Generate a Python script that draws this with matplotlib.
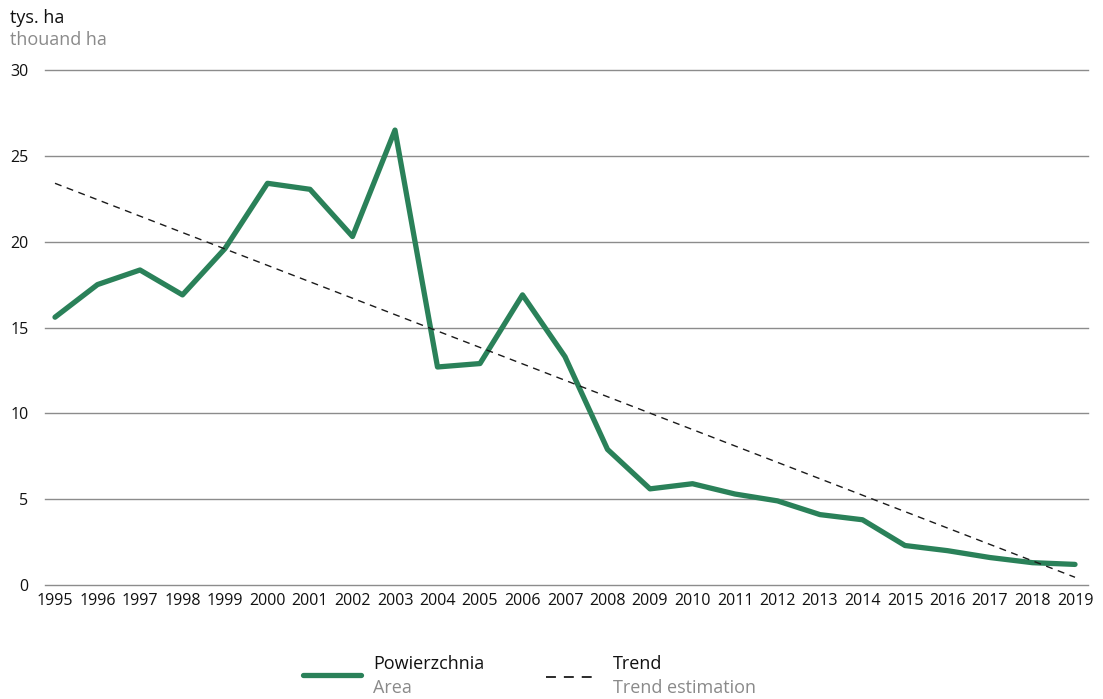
import matplotlib
matplotlib.use("Agg")
import matplotlib.pyplot as plt
from matplotlib.lines import Line2D

plt.rcParams['font.family'] = ['Open Sans', 'DejaVu Sans']

years = list(range(1995, 2020))
area = [15.6, 17.5, 18.35, 16.9, 19.6, 23.4, 23.05, 20.3, 26.5, 12.7,
        12.9, 16.9, 13.3, 7.9, 5.6, 5.9, 5.3, 4.9, 4.1, 3.8,
        2.3, 2.0, 1.6, 1.3, 1.2]
trend_years = [1995, 2019]
trend_vals = [23.4, 0.45]
yticks = [0, 5, 10, 15, 20, 25, 30]

green = '#2a8159'

fig = plt.figure(figsize=(11.03, 6.99), dpi=100)
ax = fig.add_axes([45 / 1103, 1 - 585 / 699, (1088 - 45) / 1103, (585 - 70) / 699])

ax.plot(years, area, color=green, lw=3.8, solid_capstyle='round', solid_joinstyle='round', zorder=3)
ax.plot(trend_years, trend_vals, color='#1a1a1a', lw=1.0, ls=(0, (5, 4)), zorder=4)

ax.set_xlim(1995 - 10 / 42.5, 2019 + 13 / 42.5)
ax.set_ylim(0, 30)
ax.set_yticks(yticks)
ax.set_xticks(years)
ax.set_xticklabels([str(y) for y in years])
ax.grid(axis='y', color='#8c8c8c', lw=1.0)
for gl in ax.get_ygridlines():
    gl.set_clip_on(False)
ax.set_axisbelow(True)
for s in ax.spines.values():
    s.set_visible(False)
ax.tick_params(axis='both', length=0, labelsize=11.5, colors='#111111')
ax.tick_params(axis='x', pad=6)
ax.tick_params(axis='y', pad=12)

fig.text(10 / 1103, 1 - 18 / 699, 'tys. ha', fontsize=13, color='#111111', va='center', ha='left')
fig.text(10 / 1103, 1 - 40 / 699, 'thouand ha', fontsize=13, color='#8a8a8a', va='center', ha='left')

# legend
fig.add_artist(Line2D([303 / 1103, 361 / 1103], [1 - 675 / 699] * 2, color=green, lw=3.8,
                      solid_capstyle='round'))
fig.text(373 / 1103, 1 - 664 / 699, 'Powierzchnia', fontsize=13, color='#111111', va='center')
fig.text(373 / 1103, 1 - 688 / 699, 'Area', fontsize=13, color='#8a8a8a', va='center')
fig.add_artist(Line2D([546 / 1103, 592 / 1103], [1 - 677 / 699] * 2, color='#1a1a1a', lw=1.3,
                      ls=(0, (5.5, 4.4))))
fig.text(613 / 1103, 1 - 664 / 699, 'Trend', fontsize=13, color='#111111', va='center')
fig.text(613 / 1103, 1 - 688 / 699, 'Trend estimation', fontsize=13, color='#8a8a8a', va='center')

fig.savefig('out.png', dpi=100)
